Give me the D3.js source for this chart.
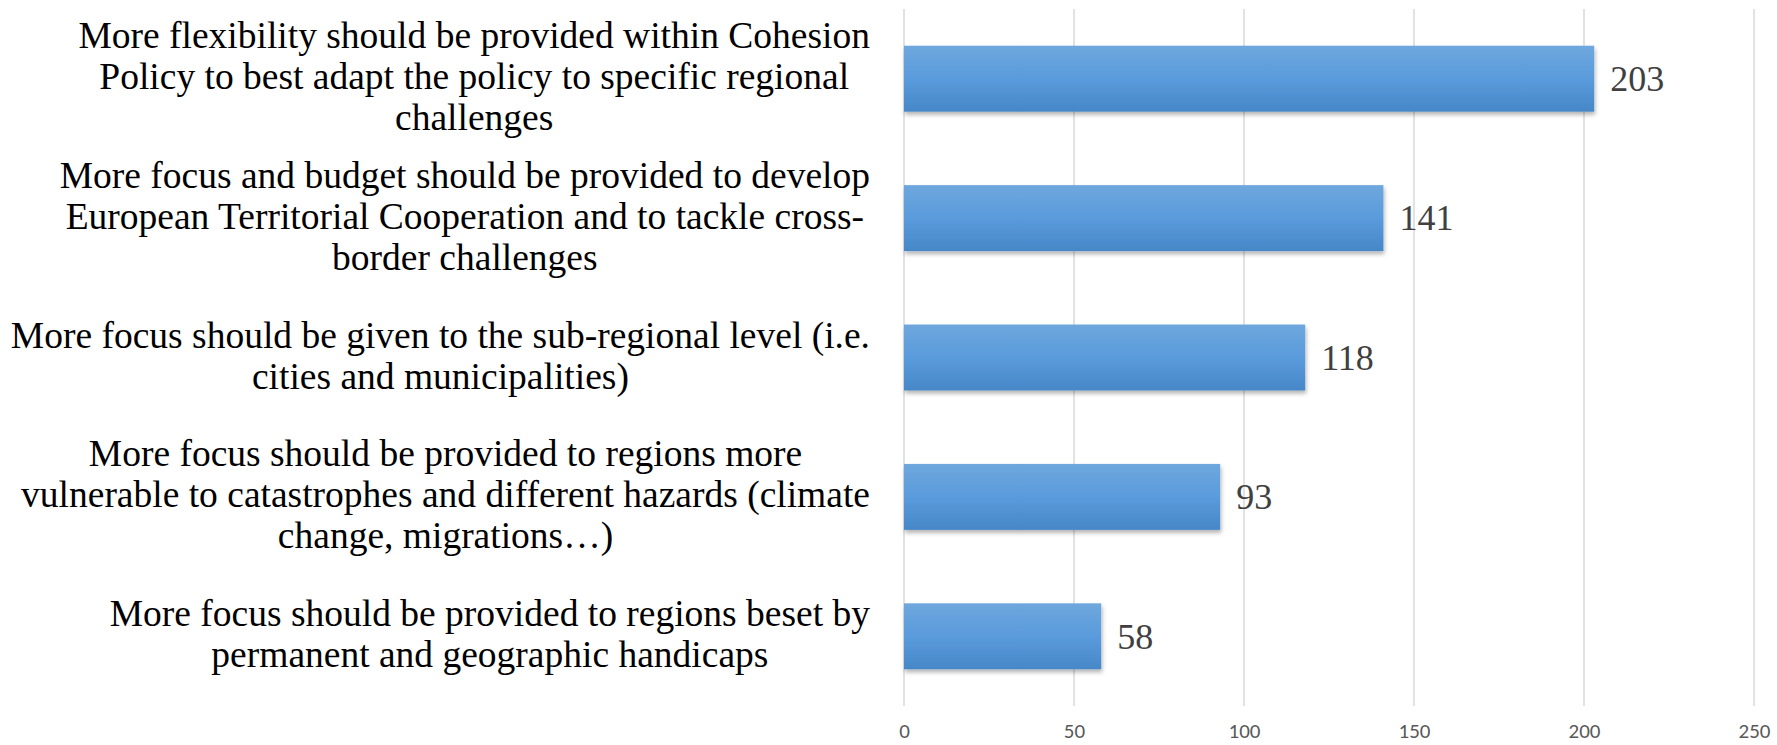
<!DOCTYPE html>
<html>
<head>
<meta charset="utf-8">
<script src="https://cdn.jsdelivr.net/npm/d3@7"></script>
<style>
  html, body { margin: 0; padding: 0; background: #ffffff; }
  svg { display: block; }
</style>
</head>
<body>
<svg id="chart" width="1777" height="745"></svg>
<script>
// Survey answers, top to bottom, each label split into its printed lines
const categories = [
  ["More flexibility should be provided within Cohesion",
   "Policy to best adapt the policy to specific regional",
   "challenges"],
  ["More focus and budget should be provided to develop",
   "European Territorial Cooperation and to tackle cross-",
   "border challenges"],
  ["More focus should be given to the sub-regional level (i.e.",
   "cities and municipalities)"],
  ["More focus should be provided to regions more",
   "vulnerable to catastrophes and different hazards (climate",
   "change, migrations…)"],
  ["More focus should be provided to regions beset by",
   "permanent and geographic handicaps"]
];
const values = [203, 141, 118, 93, 58];
const tickValues = [0, 50, 100, 150, 200, 250];

const serif = "'Liberation Serif', 'Times New Roman', serif";
const svg = d3.select("#chart");
const plot = { left: 904, right: 1754, top: 9, bottom: 706 };
const labelRight = 870;

const x = d3.scaleLinear().domain([0, 250]).range([plot.left, plot.right]);
const y = d3.scaleBand()
  .domain(d3.range(categories.length))
  .range([plot.top, plot.bottom])
  .paddingInner(0.527)
  .paddingOuter(0.2635);

// Bar fill gradient and soft shadow
const defs = svg.append("defs");
const grad = defs.append("linearGradient")
  .attr("id", "barFill").attr("x1", 0).attr("y1", 0).attr("x2", 0).attr("y2", 1);
grad.append("stop").attr("offset", "0%").attr("stop-color", "#6ea7dd");
grad.append("stop").attr("offset", "50%").attr("stop-color", "#5a9bdc");
grad.append("stop").attr("offset", "100%").attr("stop-color", "#4687c7");
const shadow = defs.append("filter").attr("id", "barShadow")
  .attr("x", "-5%").attr("y", "-20%").attr("width", "115%").attr("height", "150%");
shadow.append("feDropShadow")
  .attr("dx", 1).attr("dy", 3).attr("stdDeviation", 2)
  .attr("flood-color", "#000").attr("flood-opacity", 0.3);

// Vertical gridlines
svg.append("g")
  .selectAll("line")
  .data(tickValues)
  .join("line")
  .attr("x1", d => x(d)).attr("x2", d => x(d))
  .attr("y1", plot.top).attr("y2", plot.bottom)
  .attr("stroke", "#d9d9d9").attr("stroke-width", 1.5);

// Tick labels along the bottom, baseline just above the lower edge
const axis = d3.axisBottom(x).tickValues(tickValues).tickSize(0).tickPadding(0);
const axisG = svg.append("g")
  .attr("transform", `translate(0, ${plot.bottom + 32})`)
  .call(axis);
axisG.select(".domain").remove();
axisG.selectAll("text")
  .attr("dy", 0)
  .attr("fill", "#595959")
  .style("font-family", "Carlito, 'Open Sans', sans-serif")
  .style("font-size", "21px");

// Bars
svg.append("g")
  .selectAll("rect")
  .data(values)
  .join("rect")
  .attr("x", x(0))
  .attr("y", (d, i) => y(i))
  .attr("width", d => x(d) - x(0))
  .attr("height", y.bandwidth())
  .attr("fill", "url(#barFill)")
  .attr("filter", "url(#barShadow)");

// Value labels
svg.append("g")
  .selectAll("text")
  .data(values)
  .join("text")
  .attr("x", d => x(d) + 16)
  .attr("y", (d, i) => y(i) + y.bandwidth() / 2)
  .attr("dy", "0.34em")
  .attr("fill", "#404040")
  .style("font-family", serif)
  .style("font-size", "36px")
  .text(d => d);

// Category labels: block right-aligned, each line centred within the block
const lineHeight = 41;
const labelG = svg.append("g")
  .style("font-family", serif)
  .style("font-size", "37.5px")
  .attr("fill", "#000");
categories.forEach((lines, i) => {
  const cy = y(i) + y.bandwidth() / 2;
  const t = labelG.append("text").attr("text-anchor", "middle");
  const spans = lines.map((line, k) =>
    t.append("tspan")
      .attr("y", cy + (k - (lines.length - 1) / 2) * lineHeight)
      .attr("dy", "0.28em")
      .text(line));
  const widest = d3.max(spans, s => s.node().getComputedTextLength());
  spans.forEach(s => s.attr("x", labelRight - widest / 2));
});
</script>
</body>
</html>
